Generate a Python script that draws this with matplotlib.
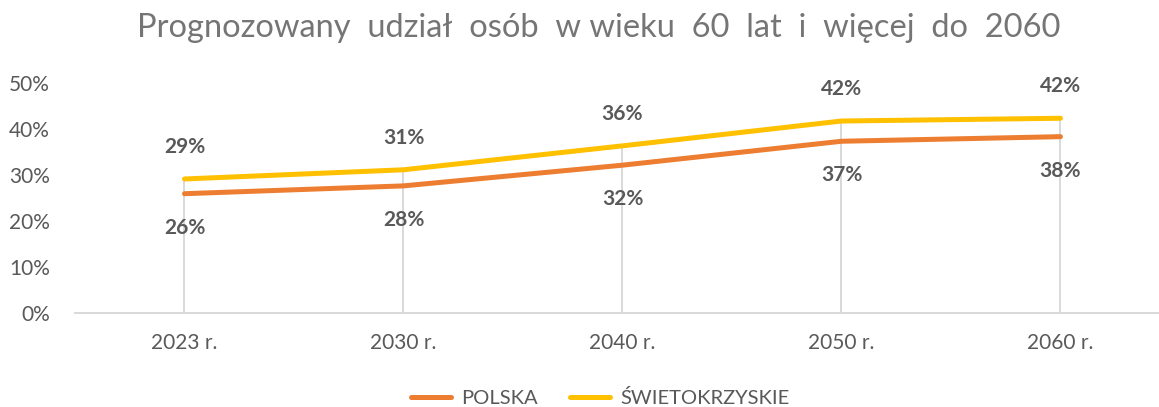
import matplotlib
matplotlib.use("Agg")
import matplotlib.pyplot as plt
from matplotlib.ticker import PercentFormatter

categories = ["2023 r.", "2030 r.", "2040 r.", "2050 r.", "2060 r."]
polska = [0.260, 0.277, 0.322, 0.374, 0.384]
swietokrzyskie = [0.292, 0.312, 0.364, 0.418, 0.424]
yticks = [0.0, 0.1, 0.2, 0.3, 0.4, 0.5]

FONT = ["Lato", "DejaVu Sans"]
GRAY = "#595959"
c_pl = "#ED7D31"
c_sw = "#FFC000"

fig = plt.figure(figsize=(11.59, 4.07), dpi=100)
ax = fig.add_axes([75 / 1159, 1 - 313.3 / 407, 1 - 75 / 1159, 230 / 407])
x = list(range(len(categories)))

# drop lines
for xi, a, b in zip(x, polska, swietokrzyskie):
    ax.plot([xi, xi], [0, max(a, b)], color="#D9D9D9", lw=1.4, zorder=1)

ax.plot(x, polska, color=c_pl, lw=3.6, solid_capstyle="round", label="POLSKA", zorder=3)
ax.plot(x, swietokrzyskie, color=c_sw, lw=3.6, solid_capstyle="round", label="ŚWIETOKRZYSKIE", zorder=3)

for xi, v in zip(x, swietokrzyskie):
    ax.annotate(f"{round(v*100):d}%", (xi, v), xytext=(0, 23), textcoords="offset points",
                ha="center", va="center", fontsize=15, fontweight="bold", color=GRAY, family=FONT)
for xi, v in zip(x, polska):
    ax.annotate(f"{round(v*100):d}%", (xi, v), xytext=(0, -24.5), textcoords="offset points",
                ha="center", va="center", fontsize=15, fontweight="bold", color=GRAY, family=FONT)

ax.set_xlim(-0.5, 4.45)
ax.set_ylim(0, 0.5)
ax.set_xticks(x)
ax.set_xticklabels(categories)
ax.set_yticks(yticks)
ax.yaxis.set_major_formatter(PercentFormatter(1.0, decimals=0))
for lab in ax.get_xticklabels() + ax.get_yticklabels():
    lab.set_family(FONT)
    lab.set_fontsize(15)
    lab.set_color(GRAY)
ax.tick_params(axis="both", length=0)
ax.tick_params(axis="x", pad=14)
ax.tick_params(axis="y", pad=18)
for s in ["top", "right", "left"]:
    ax.spines[s].set_visible(False)
ax.spines["bottom"].set_color("#D9D9D9")
ax.spines["bottom"].set_linewidth(1.4)

fig.text(0.517, 0.93, "Prognozowany  udział  osób  w wieku  60  lat  i  więcej  do  2060",
         ha="center", va="center", fontsize=23.5, color="#757575", family=FONT)

leg = fig.legend(loc="center", bbox_to_anchor=(0.518, 0.022), ncol=2, frameon=False,
                 prop={"family": FONT, "size": 14.5}, handlelength=2.0, columnspacing=1.6,
                 handletextpad=0.5)
for t in leg.get_texts():
    t.set_color(GRAY)
for h in leg.get_lines():
    h.set_linewidth(3.6)

fig.savefig("out.png", dpi=100)
